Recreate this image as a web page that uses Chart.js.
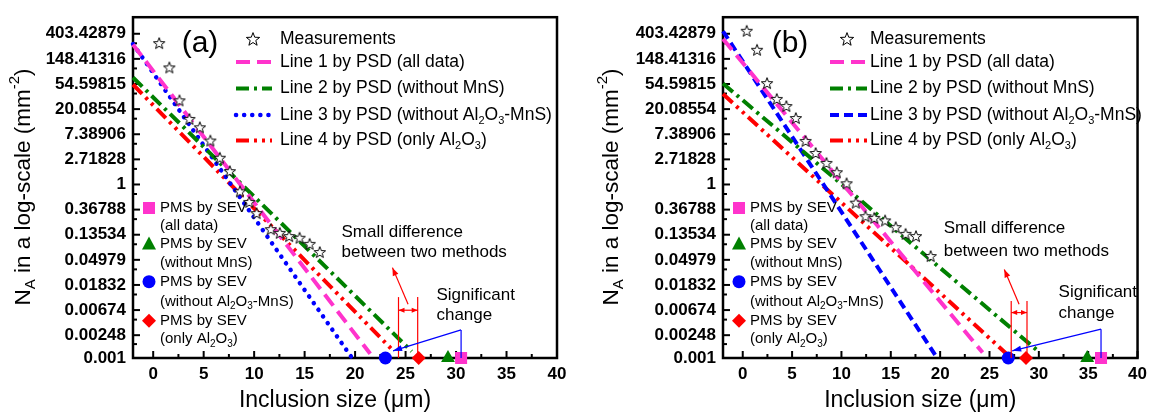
<!DOCTYPE html>
<html>
<head>
<meta charset="utf-8">
<script src="https://cdn.jsdelivr.net/npm/chart.js@4.4.1/dist/chart.umd.min.js"></script>
<style>
  html, body { margin: 0; padding: 0; background: #fff; }
  #wrap { position: relative; width: 1153px; height: 412px; }
  #chart-a { position: absolute; left: 0; top: 0; }
  #chart-b { position: absolute; left: 576px; top: 0; }
</style>
</head>
<body>
<div id="wrap">
  <canvas id="chart-a" width="576" height="412"></canvas>
  <canvas id="chart-b" width="577" height="412"></canvas>
</div>
<script>
const FONT = "'Liberation Sans', Arial, sans-serif";

// axes
const x_tick_values = [0, 5, 10, 15, 20, 25, 30, 35, 40];
const x_minor_values = [2.5, 7.5, 12.5, 17.5, 22.5, 27.5, 32.5, 37.5];
const y_tick_labels = ['0.001', '0.00248', '0.00674', '0.01832', '0.04979', '0.13534', '0.36788',
                       '1', '2.71828', '7.38906', '20.08554', '54.59815', '148.41316', '403.42879'];
const y_tick_values = y_tick_labels.map(Number);
const x_min = -2, x_max = 40, y_min = 0.001, y_max = 780;

// panel (a) measurements
const meas_a_x = [0.59, 1.60, 2.60, 3.59, 4.62, 5.66, 6.60, 7.59, 8.59, 9.52, 10.24, 11.65, 12.54, 13.47, 14.5, 15.5, 16.5];
const meas_a_y = [278, 105.6, 28.5, 13.6, 9.74, 5.75, 2.90, 1.70, 0.76, 0.50, 0.32, 0.169, 0.146, 0.128, 0.12, 0.094, 0.068];

// panel (a) PSD lines, start and end points
const line1_a_x = [-2, 21.5];   const line1_a_y = [262, 0.00118];
const line2_a_x = [-2, 25.6];   const line2_a_y = [70.8, 0.0013];
const line3_a_x = [-2, 19.7];   const line3_a_y = [268, 0.001];
const line4_a_x = [-2, 23.8];   const line4_a_y = [53.5, 0.00132];

// panel (a) PMS by SEV: all data, without MnS, without Al2O3-MnS, only Al2O3
const pms_a_x = [30.5, 29.2, 23.0, 26.3];

// panel (b) measurements
const meas_b_x = [0.40, 1.45, 2.46, 3.45, 4.42, 5.38, 6.37, 7.39, 8.48, 9.53, 10.52, 11.45, 12.44, 13.33, 14.42, 15.5, 16.5, 17.55, 19.04];
const meas_b_y = [454, 213, 56.6, 30.2, 22.7, 14.1, 5.66, 3.51, 2.36, 1.63, 1.05, 0.485, 0.283, 0.265, 0.239, 0.183, 0.140, 0.128, 0.058];

const line1_b_x = [-2, 24.3];   const line1_b_y = [327, 0.00124];
const line2_b_x = [-2, 30.1];   const line2_b_y = [55.7, 0.00124];
const line3_b_x = [-2, 19.7];   const line3_b_y = [446, 0.001];
const line4_b_x = [-2, 27.0];   const line4_b_y = [36.6, 0.00107];

const pms_b_x = [36.3, 34.9, 26.9, 28.7];

// annotations, [x, N] in data units
const diff_a_lines = [24.3, 26.2];  const diff_a_top = 0.0113;  const diff_a_mid = 0.0067;
const diff_a_pointer = [[25.25, 0.0085], [23.7, 0.0365]];
const diff_a_text = [18.65, 0.147, 0.068];
const sig_a_pointer = [[30.5, 0.00306], [23.76, 0.00133]];
const sig_a_text = [28.06, 0.0123, 0.00556];

const diff_b_lines = [27.2, 28.8];  const diff_b_top = 0.0097;  const diff_b_mid = 0.0061;
const diff_b_pointer = [[28.0, 0.0085], [26.5, 0.034]];
const diff_b_text = [20.36, 0.174, 0.0706];
const sig_b_pointer = [[36.3, 0.00315], [27.3, 0.00133]];
const sig_b_text = [32.0, 0.0135, 0.00585];

const colours = { pink: '#FF33CC', green: '#008000', blue: '#0000FF', red: '#FF0000' };
const dash_1 = [14, 7];
const dash_2 = [13, 5, 3, 5];
const dash_4 = [13, 5, 3, 5, 3, 5];

function makeStar(size) {
    const c = document.createElement('canvas');
    c.width = size; c.height = size;
    const g = c.getContext('2d');
    const cx = size / 2, cy = size / 2 + 0.6, R = size / 2 - 1, r = R * 0.42;
    g.beginPath();
    for (let i = 0; i < 10; i++) {
        const ang = -Math.PI / 2 + i * Math.PI / 5;
        const rr = i % 2 ? r : R;
        g.lineTo(cx + rr * Math.cos(ang), cy + rr * Math.sin(ang));
    }
    g.closePath();
    g.fillStyle = '#fff'; g.fill();
    g.strokeStyle = '#000'; g.lineWidth = 1; g.stroke();
    return c;
}
const star_data = makeStar(14);
const star_legend = makeStar(16);

function fontFor(size, kind) {
    return (kind ? Math.round(size * 0.65) : size) + 'px ' + FONT;
}

// text built from [text, kind] parts, kind is undefined, 'sub' or 'sup'
function drawRich(ctx, parts, x, y, size, align) {
    const widths = parts.map(([t, k]) => { ctx.font = fontFor(size, k); return ctx.measureText(t).width; });
    const total = widths.reduce((s, w) => s + w, 0);
    let cx = align === 'center' ? x - total / 2 : x;
    ctx.textAlign = 'left';
    ctx.textBaseline = 'middle';
    parts.forEach(([t, k], i) => {
        ctx.font = fontFor(size, k);
        let dy = 0;
        if (k === 'sub') dy = size * 0.32;
        if (k === 'sup') dy = -size * 0.4;
        ctx.fillText(t, cx, y + dy);
        cx += widths[i];
    });
}

function arrowHead(ctx, x1, y1, x2, y2, len, half) {
    const ang = Math.atan2(y2 - y1, x2 - x1);
    ctx.beginPath();
    ctx.moveTo(x2, y2);
    ctx.lineTo(x2 - len * Math.cos(ang) + half * Math.sin(ang), y2 - len * Math.sin(ang) - half * Math.cos(ang));
    ctx.lineTo(x2 - len * Math.cos(ang) - half * Math.sin(ang), y2 - len * Math.sin(ang) + half * Math.cos(ang));
    ctx.closePath();
    ctx.fill();
}

function segment(ctx, x1, y1, x2, y2) {
    ctx.beginPath(); ctx.moveTo(x1, y1); ctx.lineTo(x2, y2); ctx.stroke();
}

function pmsMarker(ctx, kind, x, y) {
    ctx.beginPath();
    if (kind === 0) { ctx.fillStyle = colours.pink; ctx.rect(x - 6, y - 6, 12, 12); }
    if (kind === 1) { ctx.fillStyle = colours.green; ctx.moveTo(x, y - 7); ctx.lineTo(x + 7, y + 6); ctx.lineTo(x - 7, y + 6); ctx.closePath(); }
    if (kind === 2) { ctx.fillStyle = colours.blue; ctx.arc(x, y, 6.5, 0, Math.PI * 2); }
    if (kind === 3) { ctx.fillStyle = colours.red; ctx.moveTo(x, y - 7); ctx.lineTo(x + 7, y); ctx.lineTo(x, y + 7); ctx.lineTo(x - 7, y); ctx.closePath(); }
    ctx.fill();
}

const legend_parts = [
    [['Measurements']],
    [['Line 1 by PSD (all data)']],
    [['Line 2 by PSD (without MnS)']],
    [['Line 3 by PSD (without Al'], ['2', 'sub'], ['O'], ['3', 'sub'], ['-MnS)']],
    [['Line 4 by PSD (only Al'], ['2', 'sub'], ['O'], ['3', 'sub'], [')']]
];
const pms_parts = [
    [['(all data)']],
    [['(without MnS)']],
    [['(without Al'], ['2', 'sub'], ['O'], ['3', 'sub'], ['-MnS)']],
    [['(only Al'], ['2', 'sub'], ['O'], ['3', 'sub'], [')']]
];

function makePlugin(p) {
    return {
        id: 'panel_extras',
        beforeDatasetsDraw(chart) {
            const { ctx, chartArea: a, scales: { x, y } } = chart;
            ctx.save();
            ctx.strokeStyle = '#000';
            ctx.lineWidth = 2;
            // inward ticks, major and minor
            x_tick_values.forEach(v => { const px = x.getPixelForValue(v); segment(ctx, px, a.bottom, px, a.bottom - 7); });
            x_minor_values.forEach(v => { const px = x.getPixelForValue(v); segment(ctx, px, a.bottom, px, a.bottom - 4); });
            y_tick_values.forEach(v => { const py = y.getPixelForValue(v); segment(ctx, a.left, py, a.left + 7, py); });
            for (let i = 1; i < y_tick_values.length; i++) {
                const py = y.getPixelForValue((y_tick_values[i] + y_tick_values[i - 1]) / 2);
                segment(ctx, a.left, py, a.left + 4, py);
            }
            ctx.lineWidth = 2.5;
            ctx.strokeRect(a.left, a.top, a.right - a.left, a.bottom - a.top);
            ctx.restore();
        },
        afterDatasetsDraw(chart) {
            const { ctx, chartArea: a, scales: { x, y } } = chart;
            const X = v => x.getPixelForValue(v), Y = v => y.getPixelForValue(v);
            ctx.save();
            ctx.fillStyle = '#000';

            // panel label
            ctx.font = '30px ' + FONT;
            ctx.textAlign = 'center'; ctx.textBaseline = 'middle';
            ctx.fillText(p.name, a.left + 67, 44);

            // main legend
            const rows = [39, 62, 88.5, 115, 140.5];
            ctx.drawImage(star_legend, a.left + p.lg.star - 8, rows[0] - 8);
            const samples = [[colours.pink, dash_1, 'butt', 4], [colours.green, dash_2, 'butt', 4],
                             [colours.blue, p.dash3, p.cap3, p.width3], [colours.red, dash_4, 'butt', 4]];
            samples.forEach(([c, d, cap, w], i) => {
                ctx.strokeStyle = c; ctx.lineWidth = w; ctx.lineCap = cap; ctx.setLineDash(d);
                segment(ctx, a.left + p.lg.s0, rows[i + 1], a.left + p.lg.s1, rows[i + 1]);
            });
            ctx.setLineDash([]); ctx.lineCap = 'butt';
            ctx.fillStyle = '#000';
            legend_parts.forEach((parts, i) => drawRich(ctx, parts, a.left + p.lg.text, rows[i], 17.5, 'left'));

            // PMS legend
            const pms_rows = [[208, 225.5], [243.5, 263], [281.7, 301.7], [320.7, 339.3]];
            pms_rows.forEach(([r1, r2], i) => {
                pmsMarker(ctx, i, a.left + 16, r1);
                ctx.fillStyle = '#000';
                drawRich(ctx, [['PMS by SEV']], a.left + 27, r1, 15, 'left');
                drawRich(ctx, pms_parts[i], a.left + 27, r2, 15, 'left');
            });

            // small difference
            ctx.strokeStyle = colours.red; ctx.fillStyle = colours.red; ctx.lineWidth = 1.2;
            p.diff_lines.forEach(v => segment(ctx, X(v), a.bottom, X(v), Y(p.diff_top)));
            const xl = X(p.diff_lines[0]), xr = X(p.diff_lines[1]), ym = Y(p.diff_mid);
            segment(ctx, xl, ym, xr, ym);
            arrowHead(ctx, xr, ym, xl, ym, 6, 2.5);
            arrowHead(ctx, xl, ym, xr, ym, 6, 2.5);
            const [d0, d1] = p.diff_pointer;
            segment(ctx, X(d0[0]), Y(d0[1]), X(d1[0]), Y(d1[1]));
            arrowHead(ctx, X(d0[0]), Y(d0[1]), X(d1[0]), Y(d1[1]), 8, 3);

            // significant change
            ctx.strokeStyle = colours.blue; ctx.fillStyle = colours.blue;
            const [s0, s1] = p.sig_pointer;
            segment(ctx, X(s0[0]), a.bottom, X(s0[0]), Y(s0[1]));
            segment(ctx, X(s0[0]), Y(s0[1]), X(s1[0]), Y(s1[1]));
            arrowHead(ctx, X(s0[0]), Y(s0[1]), X(s1[0]), Y(s1[1]), 9, 3);

            ctx.fillStyle = '#000';
            drawRich(ctx, [['Small difference']], X(p.diff_text[0]), Y(p.diff_text[1]), 17, 'left');
            drawRich(ctx, [['between two methods']], X(p.diff_text[0]), Y(p.diff_text[2]), 17, 'left');
            drawRich(ctx, [['Significant']], X(p.sig_text[0]), Y(p.sig_text[1]), 17, 'left');
            drawRich(ctx, [['change']], X(p.sig_text[0]), Y(p.sig_text[2]), 17, 'left');

            // axis titles
            drawRich(ctx, [['Inclusion size (μm)']], (a.left + a.right) / 2 - 10, 401, 23, 'center');
            ctx.save();
            ctx.translate(p.y_title_x, 187);
            ctx.rotate(-Math.PI / 2);
            drawRich(ctx, [['N'], ['A', 'sub'], [' in a log-scale (mm'], ['-2', 'sup'], [')']], 0, 0, 22.5, 'center');
            ctx.restore();
            ctx.restore();
        }
    };
}

function points(xs, ys) {
    return xs.map((v, i) => ({ x: v, y: ys[i] }));
}

function buildPanel(canvas_id, p) {
    const line = (label, xs, ys, colour, dash, cap, width) => ({
        label: label, data: points(xs, ys), showLine: true, fill: false,
        borderColor: colour, backgroundColor: colour, borderWidth: width,
        borderDash: dash, borderCapStyle: cap, pointRadius: 0, order: 2, clip: false
    });
    const pms_styles = [['rect', colours.pink, 8.5], ['triangle', colours.green, 8], ['circle', colours.blue, 6.5], ['rectRot', colours.red, 7]];

    const datasets = [
        { label: 'Measurements', data: points(p.meas_x, p.meas_y), pointStyle: star_data, showLine: false, order: 0, clip: false },
        line('Line 1 by PSD (all data)', p.l1x, p.l1y, colours.pink, dash_1, 'butt', 4),
        line('Line 2 by PSD (without MnS)', p.l2x, p.l2y, colours.green, dash_2, 'butt', 4),
        line('Line 3 by PSD (without Al2O3-MnS)', p.l3x, p.l3y, colours.blue, p.dash3, p.cap3, p.width3),
        line('Line 4 by PSD (only Al2O3)', p.l4x, p.l4y, colours.red, dash_4, 'butt', 4)
    ];
    p.pms_x.forEach((v, i) => {
        const [style, colour, radius] = pms_styles[i];
        datasets.push({ label: 'PMS by SEV ' + i, data: [{ x: v, y: y_min }], pointStyle: style, pointRadius: radius,
                        pointBackgroundColor: colour, pointBorderColor: colour, pointBorderWidth: 0, showLine: false, order: 0, clip: false });
    });

    const tick_font = { family: FONT, size: 17, weight: 'bold' };

    new Chart(document.getElementById(canvas_id).getContext('2d'), {
        type: 'scatter',
        data: { datasets: datasets },
        options: {
            responsive: false,
            devicePixelRatio: 1,
            animation: false,
            layout: { padding: { left: 0, top: 16, right: p.pad_right, bottom: 0 } },
            plugins: { legend: { display: false }, tooltip: { enabled: false } },
            scales: {
                x: {
                    type: 'linear', min: x_min, max: x_max,
                    afterBuildTicks: s => { s.ticks = x_tick_values.map(v => ({ value: v })); },
                    afterFit: s => { s.height = 54; },
                    ticks: { font: tick_font, color: '#000', padding: 6, autoSkip: false, maxRotation: 0 },
                    grid: { display: false, drawTicks: false },
                    border: { display: false }
                },
                y: {
                    type: 'logarithmic', min: y_min, max: y_max,
                    afterBuildTicks: s => { s.ticks = y_tick_values.map(v => ({ value: v })); },
                    afterFit: s => { s.width = p.y_width; },
                    ticks: { font: tick_font, color: '#000', padding: 7, autoSkip: false,
                             callback: (v, i) => y_tick_labels[i] },
                    grid: { display: false, drawTicks: false },
                    border: { display: false }
                }
            }
        },
        plugins: [makePlugin(p)]
    });
}

buildPanel('chart-a', {
    name: '(a)', y_width: 133, pad_right: 19, y_title_x: 24,
    meas_x: meas_a_x, meas_y: meas_a_y,
    l1x: line1_a_x, l1y: line1_a_y, l2x: line2_a_x, l2y: line2_a_y,
    l3x: line3_a_x, l3y: line3_a_y, l4x: line4_a_x, l4y: line4_a_y,
    dash3: [0.1, 8], cap3: 'round', width3: 4.5,
    pms_x: pms_a_x,
    lg: { star: 120, s0: 103, s1: 139, text: 147 },
    diff_lines: diff_a_lines, diff_top: diff_a_top, diff_mid: diff_a_mid,
    diff_pointer: diff_a_pointer, diff_text: diff_a_text,
    sig_pointer: sig_a_pointer, sig_text: sig_a_text
});

buildPanel('chart-b', {
    name: '(b)', y_width: 147, pad_right: 6, y_title_x: 36,
    meas_x: meas_b_x, meas_y: meas_b_y,
    l1x: line1_b_x, l1y: line1_b_y, l2x: line2_b_x, l2y: line2_b_y,
    l3x: line3_b_x, l3y: line3_b_y, l4x: line4_b_x, l4y: line4_b_y,
    dash3: [9, 5], cap3: 'butt', width3: 4,
    pms_x: pms_b_x,
    lg: { star: 124, s0: 107, s1: 144, text: 147 },
    diff_lines: diff_b_lines, diff_top: diff_b_top, diff_mid: diff_b_mid,
    diff_pointer: diff_b_pointer, diff_text: diff_b_text,
    sig_pointer: sig_b_pointer, sig_text: sig_b_text
});
</script>
</body>
</html>
